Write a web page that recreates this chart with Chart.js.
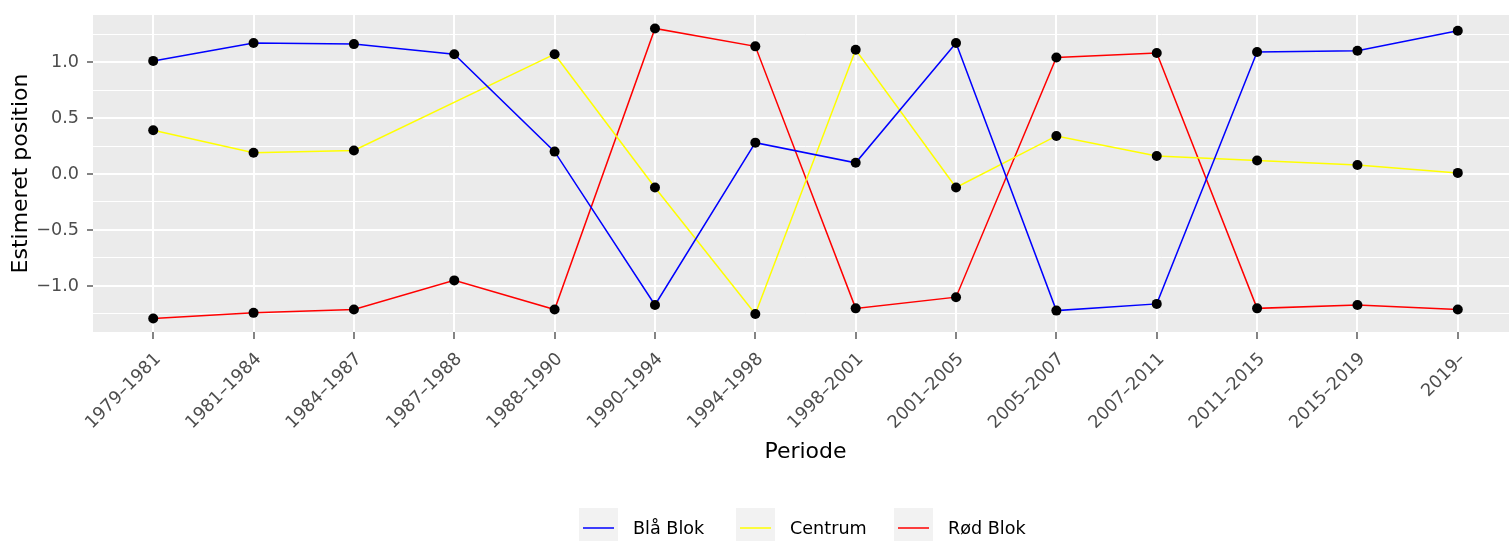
<!DOCTYPE html>
<html>
<head>
<meta charset="utf-8">
<script src="https://cdn.jsdelivr.net/npm/chart.js@4/dist/chart.umd.min.js"></script>
<style>
  html, body { margin: 0; padding: 0; background: #fff; overflow: hidden; }
  #wrap { width: 1509px; height: 541px; overflow: hidden; }
</style>
</head>
<body>
<div id="wrap"><canvas id="chart" width="1523" height="541"></canvas></div>
<script>
// periods on the x axis
var perioder = ["1979–1981", "1981–1984", "1984–1987", "1987–1988", "1988–1990", "1990–1994",
                "1994–1998", "1998–2001", "2001–2005", "2005–2007", "2007–2011", "2011–2015",
                "2015–2019", "2019–"];

// estimated positions per bloc
var blaaBlok = [1.01, 1.17, 1.16, 1.07, 0.20, -1.17, 0.28, 0.10, 1.17, -1.22, -1.16, 1.09, 1.10, 1.28];
var centrum  = [0.39, 0.19, 0.21, null, 1.07, -0.12, -1.25, 1.11, -0.12, 0.34, 0.16, 0.12, 0.08, 0.01];
var roedBlok = [-1.29, -1.24, -1.21, -0.95, -1.21, 1.30, 1.14, -1.20, -1.10, 1.04, 1.08, -1.20, -1.17, -1.21];

var serieNavne = ["Blå Blok", "Centrum", "Rød Blok"];
var serieData = [blaaBlok, centrum, roedBlok];
var farver = ["#0000FF", "#FFFF00", "#FF0000"];

// y ticks (major every 0.5, minor in between)
var yTicks = [-1.25, -1.0, -0.75, -0.5, -0.25, 0, 0.25, 0.5, 0.75, 1.0, 1.25];

var FONT = "'DejaVu Sans', 'Noto Sans', sans-serif";

function isMajor(v) {
  return Math.abs(v * 2 - Math.round(v * 2)) < 1e-6;
}

function toPoints(arr) {
  return arr.map(function (v, i) { return { x: i, y: v }; });
}

// no extra padding from the scales, the panel is placed by layout.padding
function noScalePadding(scale) {
  scale.paddingTop = 0;
  scale.paddingBottom = 0;
  scale.paddingLeft = 0;
  scale.paddingRight = 0;
}

var datasets = [];
serieData.forEach(function (arr, k) {
  datasets.push({
    label: serieNavne[k],
    data: toPoints(arr),
    borderColor: farver[k],
    backgroundColor: farver[k],
    borderWidth: 1.5,
    pointRadius: 0,
    spanGaps: true,
    tension: 0,
    order: 2
  });
});
serieData.forEach(function (arr, k) {
  datasets.push({
    label: serieNavne[k] + " punkter",
    data: toPoints(arr),
    showLine: false,
    pointRadius: 5,
    pointBackgroundColor: "#000",
    pointBorderWidth: 0,
    order: 1
  });
});

var panelBg = {
  id: "panelBg",
  beforeDraw: function (chart) {
    var a = chart.chartArea, c = chart.ctx;
    c.save();
    c.fillStyle = "#EBEBEB";
    c.fillRect(a.left, a.top, a.right - a.left, a.bottom - a.top);
    c.restore();
  }
};

var legendBoks = {
  id: "legendBoks",
  afterDraw: function (chart) {
    var c = chart.ctx;
    var keyX = [579, 736, 894];
    c.save();
    c.font = "17.6px " + FONT;
    c.textBaseline = "middle";
    c.textAlign = "left";
    serieNavne.forEach(function (navn, k) {
      var x = keyX[k];
      c.fillStyle = "#F2F2F2";
      c.fillRect(x, 508, 39, 42);
      c.strokeStyle = farver[k];
      c.lineWidth = 1.5;
      c.beginPath();
      c.moveTo(x + 4, 528);
      c.lineTo(x + 35, 528);
      c.stroke();
      c.fillStyle = "#000";
      c.fillText(navn, x + 54, 529);
    });
    c.restore();
  }
};

new Chart(document.getElementById("chart"), {
  type: "line",
  data: { datasets: datasets },
  plugins: [panelBg, legendBoks],
  options: {
    responsive: false,
    animation: false,
    layout: { padding: { top: 15, right: 0, bottom: 76, left: 0 } },
    plugins: { legend: { display: false }, tooltip: { enabled: false } },
    scales: {
      x: {
        type: "linear",
        min: -0.6,
        max: 13.6,
        afterBuildTicks: function (scale) {
          scale.ticks = perioder.map(function (p, i) { return { value: i }; });
        },
        afterFit: function (scale) { scale.height = 133; noScalePadding(scale); },
        grid: { color: "#FFFFFF", lineWidth: 2, tickColor: "#333333", tickLength: 7, tickWidth: 1.2 },
        border: { display: false },
        ticks: {
          autoSkip: false,
          minRotation: 45,
          maxRotation: 45,
          padding: 10,
          labelOffset: 5,
          color: "#4D4D4D",
          font: { family: FONT, size: 17.6 },
          callback: function (v) { return perioder[v]; }
        },
        title: {
          display: true,
          text: "Periode",
          color: "#000",
          font: { family: FONT, size: 22 },
          padding: { top: 0, bottom: 0 }
        }
      },
      y: {
        min: -1.411,
        max: 1.42,
        afterBuildTicks: function (scale) {
          scale.ticks = yTicks.map(function (v) { return { value: v }; });
        },
        afterFit: function (scale) { scale.width = 93; noScalePadding(scale); },
        grid: {
          color: "#FFFFFF",
          lineWidth: function (ctx) { return isMajor(ctx.tick.value) ? 2 : 1; },
          tickColor: function (ctx) { return isMajor(ctx.tick.value) ? "#333333" : "rgba(0,0,0,0)"; },
          tickLength: 6,
          tickWidth: 1.2
        },
        border: { display: false },
        ticks: {
          padding: 8,
          color: "#4D4D4D",
          font: { family: FONT, size: 17.6 },
          callback: function (v) {
            if (!isMajor(v)) return "";
            var s = Math.abs(v).toFixed(1);
            return v < 0 ? "\u2212" + s : s;
          }
        },
        title: {
          display: true,
          text: "Estimeret position",
          color: "#000",
          font: { family: FONT, size: 22 },
          padding: { top: 8, bottom: 0 }
        }
      }
    }
  }
});
</script>
</body>
</html>
